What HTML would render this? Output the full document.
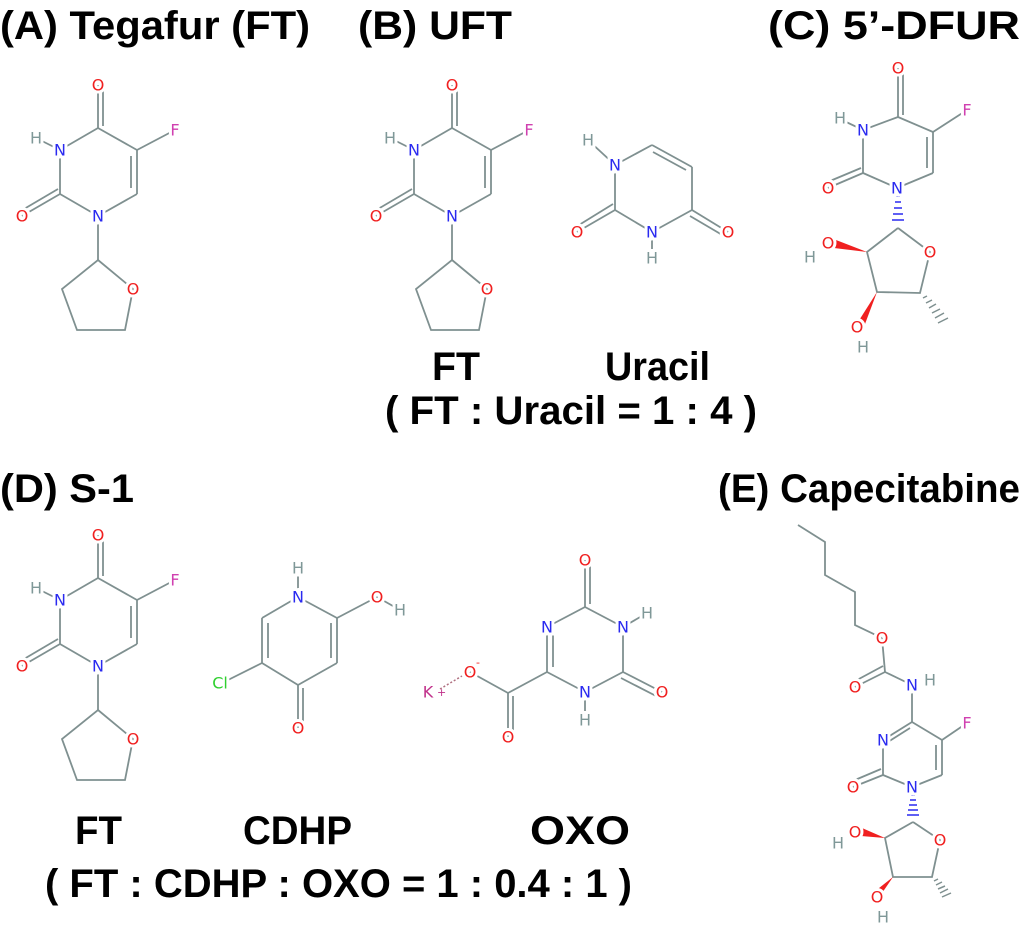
<!DOCTYPE html>
<html><head><meta charset="utf-8"><style>
html,body{margin:0;padding:0;background:#fff;}
svg{display:block;}
.t{font-family:"Liberation Sans Narrow","Liberation Sans",sans-serif;font-weight:bold;font-size:40px;fill:#000;}
.b line,.b polyline,.b polygon{stroke:#7f9090;stroke-width:1.8;fill:none;}
.a{font-family:"DejaVu Sans","Liberation Sans",sans-serif;font-size:16px;text-anchor:middle;dominant-baseline:central;paint-order:stroke;stroke:#fff;stroke-width:6px;font-weight:500;}
.N{fill:#2a2af0;}.O{fill:#f02020;}.F{fill:#d040b0;}.H{fill:#7f9898;}.Cl{fill:#30d030;}.K{fill:#c0308a;}
</style></head><body>
<svg width="1024" height="925" viewBox="0 0 1024 925" xmlns="http://www.w3.org/2000/svg">
<defs>
<g id="ft">
 <g class="b">
  <line x1="98" y1="85" x2="98" y2="128"/><line x1="103" y1="90" x2="103" y2="126"/>
  <line x1="98" y1="128" x2="137" y2="150"/>
  <line x1="137" y1="150" x2="175" y2="130"/>
  <line x1="137" y1="150" x2="137" y2="194"/><line x1="131" y1="156" x2="131" y2="188"/>
  <line x1="137" y1="194" x2="98" y2="216"/>
  <line x1="98" y1="216" x2="60" y2="194"/>
  <line x1="60" y1="194" x2="22" y2="216"/><line x1="58" y1="189" x2="24" y2="209"/>
  <line x1="60" y1="194" x2="60" y2="150"/>
  <line x1="60" y1="150" x2="98" y2="128"/>
  <line x1="60" y1="150" x2="36" y2="138"/>
  <line x1="98" y1="216" x2="98" y2="260"/>
  <polygon points="98,260 133,289 125,330 77,330 62,289"/>
 </g>
 <text class="a O" x="98" y="85">O</text>
 <text class="a F" x="175" y="130">F</text>
 <text class="a N" x="60" y="150">N</text>
 <text class="a H" x="36" y="138">H</text>
 <text class="a N" x="98" y="216">N</text>
 <text class="a O" x="22" y="216">O</text>
 <text class="a O" x="133" y="289">O</text>
</g>
</defs>

<text class="t" x="0" y="39" textLength="310" lengthAdjust="spacingAndGlyphs">(A)  Tegafur (FT)</text>
<text class="t" x="358" y="39" textLength="154" lengthAdjust="spacingAndGlyphs">(B)  UFT</text>
<text class="t" x="768" y="39" textLength="252" lengthAdjust="spacingAndGlyphs">(C)  5’-DFUR</text>
<text class="t" x="432" y="380" textLength="48" lengthAdjust="spacingAndGlyphs">FT</text>
<text class="t" x="605" y="380" textLength="105" lengthAdjust="spacingAndGlyphs">Uracil</text>
<text class="t" x="385" y="424" textLength="372" lengthAdjust="spacingAndGlyphs">( FT : Uracil = 1 : 4 )</text>
<text class="t" x="0" y="502" textLength="134" lengthAdjust="spacingAndGlyphs">(D)  S-1</text>
<text class="t" x="718" y="502" textLength="302" lengthAdjust="spacingAndGlyphs">(E)  Capecitabine</text>
<text class="t" x="75" y="844" textLength="47" lengthAdjust="spacingAndGlyphs">FT</text>
<text class="t" x="243" y="844" textLength="109" lengthAdjust="spacingAndGlyphs">CDHP</text>
<text class="t" x="530" y="844" textLength="100" lengthAdjust="spacingAndGlyphs">OXO</text>
<text class="t" x="45" y="897" textLength="587" lengthAdjust="spacingAndGlyphs">( FT : CDHP : OXO = 1 : 0.4 : 1 )</text>

<use href="#ft"/>
<use href="#ft" transform="translate(354,0)"/>
<use href="#ft" transform="translate(0,450)"/>

<g class="b">
 <line x1="588" y1="140" x2="615" y2="165"/>
 <line x1="615" y1="165" x2="652" y2="145"/>
 <line x1="652" y1="145" x2="692" y2="167"/><line x1="653" y1="152" x2="686" y2="170"/>
 <line x1="692" y1="167" x2="692" y2="210"/>
 <line x1="692" y1="210" x2="728" y2="232"/><line x1="690" y1="216" x2="724" y2="236"/>
 <line x1="692" y1="210" x2="652" y2="232"/>
 <line x1="652" y1="232" x2="652" y2="258"/>
 <line x1="652" y1="232" x2="615" y2="210"/>
 <line x1="615" y1="210" x2="577" y2="232"/><line x1="613" y1="204" x2="579" y2="225"/>
 <line x1="615" y1="210" x2="615" y2="165"/>
</g>
<text class="a H" x="588" y="140">H</text>
<text class="a N" x="615" y="165">N</text>
<text class="a O" x="728" y="232">O</text>
<text class="a N" x="652" y="232">N</text>
<text class="a H" x="652" y="258">H</text>
<text class="a O" x="577" y="232">O</text>

<g class="b">
 <line x1="898" y1="68" x2="898" y2="117"/><line x1="903" y1="73" x2="903" y2="115"/>
 <line x1="898" y1="117" x2="933" y2="132"/>
 <line x1="933" y1="132" x2="967" y2="110"/>
 <line x1="933" y1="132" x2="933" y2="173"/><line x1="927" y1="137" x2="927" y2="168"/>
 <line x1="933" y1="173" x2="897" y2="188"/>
 <line x1="897" y1="188" x2="863" y2="173"/>
 <line x1="863" y1="173" x2="828" y2="188"/><line x1="861" y1="168" x2="830" y2="181"/>
 <line x1="863" y1="173" x2="863" y2="130"/>
 <line x1="863" y1="130" x2="898" y2="117"/>
 <line x1="863" y1="130" x2="842" y2="120"/>
 <polyline points="898,228 930,252 920,293 877,292 867,252 898,228"/>
</g>
<path d="M896,196 h4 M895,202 h6 M894,208 h8 M893,214 h10 M892,220 h12" stroke="#2a2af0" stroke-width="1.6"/>
<polygon points="867,252 836,240 834,248" fill="#f02020"/>
<polygon points="877,292 858,322 865,324" fill="#f02020"/>
<path d="M923,298 l4,-2 M926,303 l6,-3 M929,308 l7,-4 M932,313 l8,-4 M935,318 l9,-5 M938,323 l10,-5" stroke="#7f9090" stroke-width="1.5"/>
<text class="a O" x="898" y="68">O</text>
<text class="a F" x="967" y="110">F</text>
<text class="a N" x="863" y="130">N</text>
<text class="a H" x="840" y="118">H</text>
<text class="a N" x="897" y="188">N</text>
<text class="a O" x="828" y="188">O</text>
<text class="a O" x="930" y="252">O</text>
<text class="a O" x="828" y="243">O</text>
<text class="a H" x="810" y="257">H</text>
<text class="a O" x="857" y="327">O</text>
<text class="a H" x="863" y="347">H</text>

<g class="b">
 <line x1="298" y1="568" x2="298" y2="597"/>
 <line x1="298" y1="597" x2="262" y2="618"/>
 <line x1="262" y1="618" x2="262" y2="663"/><line x1="268" y1="623" x2="268" y2="658"/>
 <line x1="262" y1="663" x2="222" y2="683"/>
 <line x1="262" y1="663" x2="298" y2="685"/>
 <line x1="298" y1="685" x2="298" y2="728"/><line x1="303" y1="688" x2="303" y2="724"/>
 <line x1="298" y1="685" x2="337" y2="663"/>
 <line x1="337" y1="663" x2="337" y2="618"/><line x1="331" y1="658" x2="331" y2="623"/>
 <line x1="337" y1="618" x2="298" y2="597"/>
 <line x1="337" y1="618" x2="377" y2="597"/>
 <line x1="377" y1="597" x2="400" y2="610"/>
</g>
<text class="a H" x="298" y="568">H</text>
<text class="a N" x="298" y="597">N</text>
<text class="a Cl" x="220" y="683">Cl</text>
<text class="a O" x="298" y="728">O</text>
<text class="a O" x="377" y="597">O</text>
<text class="a H" x="400" y="610">H</text>

<g class="b">
 <line x1="585" y1="560" x2="585" y2="607"/><line x1="590" y1="563" x2="590" y2="604"/>
 <line x1="585" y1="607" x2="547" y2="627"/>
 <line x1="585" y1="607" x2="623" y2="627"/>
 <line x1="623" y1="627" x2="647" y2="613"/>
 <line x1="547" y1="627" x2="547" y2="672"/><line x1="553" y1="632" x2="553" y2="667"/>
 <line x1="623" y1="627" x2="623" y2="672"/>
 <line x1="623" y1="672" x2="662" y2="692"/><line x1="621" y1="678" x2="658" y2="697"/>
 <line x1="623" y1="672" x2="585" y2="692"/>
 <line x1="585" y1="692" x2="585" y2="720"/>
 <line x1="585" y1="692" x2="547" y2="672"/>
 <line x1="547" y1="672" x2="508" y2="693"/>
 <line x1="508" y1="693" x2="508" y2="737"/><line x1="513" y1="696" x2="513" y2="734"/>
 <line x1="508" y1="693" x2="470" y2="672"/>
</g>
<line x1="440" y1="689" x2="462" y2="676" stroke="#b07080" stroke-width="1.5" stroke-dasharray="2,2"/>
<text class="a O" x="585" y="560">O</text>
<text class="a N" x="547" y="627">N</text>
<text class="a N" x="623" y="627">N</text>
<text class="a H" x="647" y="613">H</text>
<text class="a O" x="662" y="692">O</text>
<text class="a N" x="585" y="692">N</text>
<text class="a H" x="585" y="720">H</text>
<text class="a O" x="508" y="737">O</text>
<text class="a O" x="470" y="672">O</text>
<text x="476" y="666" font-family="DejaVu Sans" font-size="11" fill="#f02020">-</text>
<text class="a K" x="428" y="692">K</text>
<text x="437" y="696" font-family="DejaVu Sans" font-size="11" fill="#c0308a">+</text>

<g class="b">
 <polyline points="798,525 825,542 825,575 855,592 855,625 882,638"/>
 <line x1="882" y1="638" x2="885" y2="672"/>
 <line x1="885" y1="672" x2="855" y2="687"/><line x1="883" y1="666" x2="857" y2="680"/>
 <line x1="885" y1="672" x2="912" y2="685"/>
 <line x1="912" y1="685" x2="912" y2="722"/>
 <line x1="912" y1="722" x2="883" y2="740"/><line x1="910" y1="728" x2="888" y2="742"/>
 <line x1="912" y1="722" x2="942" y2="740"/>
 <line x1="942" y1="740" x2="967" y2="723"/>
 <line x1="942" y1="740" x2="942" y2="775"/><line x1="936" y1="745" x2="936" y2="770"/>
 <line x1="942" y1="775" x2="912" y2="787"/>
 <line x1="912" y1="787" x2="883" y2="775"/>
 <line x1="883" y1="775" x2="883" y2="740"/>
 <line x1="883" y1="775" x2="853" y2="787"/><line x1="881" y1="769" x2="855" y2="780"/>
 <polyline points="913,822 940,840 932,877 893,877 885,838 913,822"/>
</g>
<path d="M911,795 h4 M910,800 h6 M909,805 h8 M908,810 h10 M907,815 h12" stroke="#2a2af0" stroke-width="1.6"/>
<polygon points="885,838 862,828 861,836" fill="#f02020"/>
<polygon points="893,877 874,892 880,896" fill="#f02020"/>
<path d="M934,881 l4,-2 M936,885 l6,-3 M938,889 l7,-3 M940,893 l8,-4 M942,897 l9,-4" stroke="#7f9090" stroke-width="1.5"/>
<text class="a O" x="882" y="638">O</text>
<text class="a O" x="855" y="687">O</text>
<text class="a N" x="912" y="685">N</text>
<text class="a H" x="930" y="680">H</text>
<text class="a N" x="883" y="740">N</text>
<text class="a F" x="967" y="723">F</text>
<text class="a N" x="912" y="787">N</text>
<text class="a O" x="853" y="787">O</text>
<text class="a O" x="940" y="840">O</text>
<text class="a O" x="855" y="832">O</text>
<text class="a H" x="838" y="843">H</text>
<text class="a O" x="877" y="897">O</text>
<text class="a H" x="883" y="917">H</text>
</svg>
</body></html>
